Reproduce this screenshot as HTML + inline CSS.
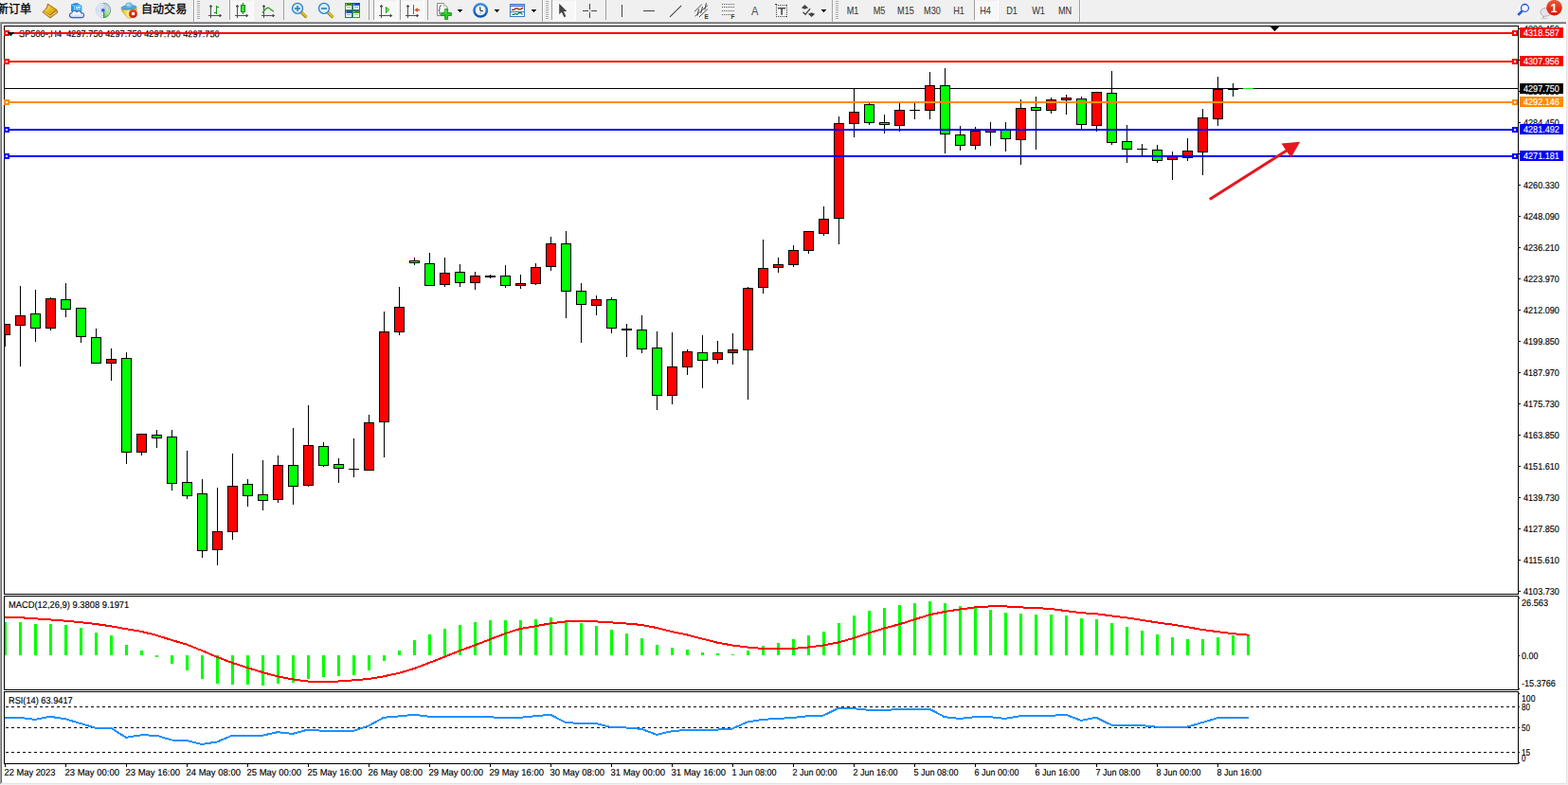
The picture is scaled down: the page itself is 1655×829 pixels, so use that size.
<!DOCTYPE html>
<html><head><meta charset="utf-8"><title>SP500 H4</title>
<style>html,body{margin:0;padding:0;background:#f0f0f0;overflow:hidden}svg{display:block}text{font-family:"Liberation Sans",sans-serif}</style>
</head><body>
<svg width="1655" height="829" viewBox="0 0 1655 829" shape-rendering="crispEdges">
<defs>
<clipPath id="cm"><rect x="5" y="28" width="1597" height="599"/></clipPath>
<clipPath id="c2"><rect x="5" y="630" width="1597" height="98"/></clipPath>
<clipPath id="c3"><rect x="5" y="731" width="1597" height="75"/></clipPath>
<pattern id="dz" width="2" height="2" patternUnits="userSpaceOnUse"><rect width="2" height="2" fill="#fff"/><rect width="1" height="1" fill="#f0f0f0"/><rect x="1" y="1" width="1" height="1" fill="#f0f0f0"/></pattern>
</defs>
<rect x="0" y="0" width="1655" height="829" fill="#f0f0f0"/>
<rect x="2" y="25" width="1651" height="802" fill="#fff"/>
<rect x="0" y="23" width="1653" height="1" fill="#a0a0a0"/>
<rect x="1" y="24" width="1652" height="1" fill="#696969"/>
<rect x="0" y="23" width="1" height="805" fill="#a0a0a0"/>
<rect x="1" y="24" width="1" height="803" fill="#696969"/>
<rect x="2" y="827" width="1652" height="1" fill="#e3e3e3"/>
<rect x="1653" y="25" width="1" height="803" fill="#e3e3e3"/>
<g shape-rendering="auto">
<text x="-3.2" y="14.1" font-size="12.1" fill="#000" stroke="#000" stroke-width="0.3" style="font-family:'Liberation Sans','Noto Sans CJK SC',sans-serif">新订单</text>
<defs><linearGradient id="bk" x1="0" y1="0" x2="1" y2="1"><stop offset="0" stop-color="#fbee90"/><stop offset=".45" stop-color="#ecbe20"/><stop offset="1" stop-color="#d4960e"/></linearGradient></defs>
<g><path d="M50.300 4L59.900 10.300L61 13L53 19.100L44.900 12.900L49.300 7.900Z" fill="#b27210" stroke="#a86a0a" stroke-width=".7" stroke-linejoin="round"/><path d="M50.700 5.200L58.900 10.600L52.700 15.600L46.700 11.700L50 8.200Z" fill="url(#bk)"/><path d="M45.900 12.900L52.800 17.900L53 16.500L46.700 12.200Z" fill="#f4d058"/><path d="M53.600 17.800L60 13L59.500 11.600L53.300 16.500Z" fill="#e8dca4"/><path d="M53.500 17.200L59.800 12.300" stroke="#b89040" stroke-width=".4"/></g>
<defs><linearGradient id="cl" x1="0" y1="0" x2="0" y2="1"><stop offset="0" stop-color="#ffffff"/><stop offset=".5" stop-color="#f0f4fa"/><stop offset="1" stop-color="#bccadf"/></linearGradient></defs>
<g><path d="M75.200 4.200L81 3.100L86.200 5.400V12.500L78.400 13.200L75.200 12Z" fill="#1a8ae8"/><path d="M75.200 4.200L78.400 6.200V13.200L75.200 12Z" fill="#0c9ef6"/><path d="M78.400 6.200L86.200 5.400V12.500L78.400 13.200Z" fill="#2ca8fc"/><path d="M75.300 4.300L78.400 6.200V13M78.400 6.200L86 5.500" fill="none" stroke="#e4f2ff" stroke-width=".6"/><path d="M80 8.400L84.900 7.600" stroke="#fff" stroke-width="1.200"/><path d="M80 10.300L84.900 9.900" stroke="#b8e0ff" stroke-width=".8"/>
<path d="M76.500 18.600C72.600 18.600 72.400 14.200 75.800 13.800C76 11.400 79.600 10.600 81 12.600C82.400 10.800 85.600 11.600 85.600 13.600C89.200 13.400 89.800 18.600 86 18.600Z" fill="url(#cl)" stroke="#42609f" stroke-width="1.100"/></g>
<defs><linearGradient id="sw" x1="0" y1="1" x2="1" y2="0"><stop offset="0" stop-color="#3fb43f"/><stop offset=".5" stop-color="#a8d4a8"/><stop offset="1" stop-color="#d4e6d6"/></linearGradient></defs>
<g fill="none"><circle cx="109" cy="11" r="7.8" fill="#f6f8fa"/><path d="M109 11V19A8 8 0 0 0 117 11Z" fill="url(#sw)"/><path d="M109 11H117A8 8 0 0 0 109 3Z" fill="#e2ece6"/>
<path d="M109 3.400a7.600 7.600 0 0 0 0 15.200" stroke="#6f92e0" stroke-width=".9" opacity=".5"/><path d="M109 5.500a5.500 5.500 0 0 0 0 11" stroke="#5a84dc" stroke-width=".9" opacity=".5"/><path d="M109 7.700a3.300 3.300 0 0 0 0 6.600" stroke="#4a78d8" stroke-width=".9" opacity=".45"/>
<path d="M109 3.400a7.600 7.600 0 0 1 7.600 7.600" stroke="#5f8fb0" stroke-width="1.100" opacity=".8"/><path d="M109 5.500a5.500 5.500 0 0 1 5.500 5.500" stroke="#86a8b8" stroke-width="1" opacity=".7"/><path d="M109 7.700a3.300 3.300 0 0 1 3.300 3.300" stroke="#86a8b8" stroke-width="1" opacity=".7"/><path d="M116.600 11a7.600 7.600 0 0 1-7.600 7.600" stroke="#4aa04a" stroke-width="1" opacity=".8"/>
<circle cx="108.800" cy="10.800" r="1.900" fill="#2a5cd0"/><rect x="109.100" y="11" width="1" height="8" fill="#1fa81f"/></g>
<defs><linearGradient id="yb" x1="0" y1="0" x2="1" y2="0"><stop offset="0" stop-color="#e9b020"/><stop offset=".45" stop-color="#fff07a"/><stop offset="1" stop-color="#eab824"/></linearGradient><linearGradient id="rd" x1="0" y1="0" x2="0" y2="1"><stop offset="0" stop-color="#f04a28"/><stop offset="1" stop-color="#c81400"/></linearGradient></defs>
<g><path d="M128.200 9.800L144.300 8.800L143.600 13L138 19.300L134.500 18.600L128.600 11.500Z" fill="url(#yb)" stroke="#c8941a" stroke-width=".7"/>
<ellipse cx="136" cy="7.900" rx="8" ry="2.200" fill="#56a8dc" stroke="#2c88b8" stroke-width=".7" transform="rotate(-4 136 7.600)"/><ellipse cx="136.200" cy="5.600" rx="3.500" ry="2.700" fill="#84c8ee" stroke="#3a94c4" stroke-width=".6"/><ellipse cx="135.300" cy="5" rx="1.600" ry="1" fill="#b4e0f8"/>
<circle cx="140.500" cy="14.600" r="4.100" fill="url(#rd)" stroke="#b41400" stroke-width=".5"/><rect x="139" y="13.100" width="3.100" height="3" fill="#fff"/></g>
<text x="148.9" y="14.1" font-size="12.1" fill="#000" stroke="#000" stroke-width="0.3" style="font-family:'Liberation Sans','Noto Sans CJK SC',sans-serif">自动交易</text>
</g>
<rect x="204" y="0" width="1" height="23" fill="#a0a0a0"/>
<rect x="205" y="0" width="1" height="23" fill="#fff"/>
<rect x="208" y="1" width="3" height="1" fill="#a6a6a6"/>
<rect x="208" y="3" width="3" height="1" fill="#a6a6a6"/>
<rect x="208" y="5" width="3" height="1" fill="#a6a6a6"/>
<rect x="208" y="7" width="3" height="1" fill="#a6a6a6"/>
<rect x="208" y="9" width="3" height="1" fill="#a6a6a6"/>
<rect x="208" y="11" width="3" height="1" fill="#a6a6a6"/>
<rect x="208" y="13" width="3" height="1" fill="#a6a6a6"/>
<rect x="208" y="15" width="3" height="1" fill="#a6a6a6"/>
<rect x="208" y="17" width="3" height="1" fill="#a6a6a6"/>
<rect x="208" y="19" width="3" height="1" fill="#a6a6a6"/>
<rect x="208" y="2" width="3" height="1" fill="#fbfbfb"/>
<rect x="208" y="4" width="3" height="1" fill="#fbfbfb"/>
<rect x="208" y="6" width="3" height="1" fill="#fbfbfb"/>
<rect x="208" y="8" width="3" height="1" fill="#fbfbfb"/>
<rect x="208" y="10" width="3" height="1" fill="#fbfbfb"/>
<rect x="208" y="12" width="3" height="1" fill="#fbfbfb"/>
<rect x="208" y="14" width="3" height="1" fill="#fbfbfb"/>
<rect x="208" y="16" width="3" height="1" fill="#fbfbfb"/>
<rect x="208" y="18" width="3" height="1" fill="#fbfbfb"/>
<rect x="208" y="20" width="3" height="1" fill="#fbfbfb"/>
<rect x="222" y="5" width="1" height="14" fill="#505050"/><rect x="220" y="16" width="14" height="1" fill="#505050"/>
<rect x="221" y="6" width="3" height="1" fill="#505050"/><rect x="232" y="15" width="1" height="3" fill="#505050"/>
<rect x="221" y="7" width="1" height="1" fill="#b0b0b0"/><rect x="223" y="7" width="1" height="1" fill="#b0b0b0"/><rect x="231" y="15" width="1" height="1" fill="#b0b0b0"/><rect x="231" y="17" width="1" height="1" fill="#b0b0b0"/>
<g fill="#0a9a0a"><rect x="228" y="6" width="1" height="9"/><rect x="229" y="7" width="2" height="1"/><rect x="226" y="13" width="2" height="1"/><rect x="228" y="6" width="2" height="1" opacity=".0"/></g>
<rect x="243" y="1" width="24" height="20" fill="url(#dz)"/>
<rect x="242" y="0" width="1" height="21" fill="#a0a0a0"/>
<rect x="242" y="21" width="26" height="1" fill="#fff"/><rect x="267" y="0" width="1" height="22" fill="#fff"/>
<rect x="250" y="5" width="1" height="14" fill="#505050"/><rect x="248" y="16" width="14" height="1" fill="#505050"/>
<rect x="249" y="6" width="3" height="1" fill="#505050"/><rect x="260" y="15" width="1" height="3" fill="#505050"/>
<rect x="249" y="7" width="1" height="1" fill="#b0b0b0"/><rect x="251" y="7" width="1" height="1" fill="#b0b0b0"/><rect x="259" y="15" width="1" height="1" fill="#b0b0b0"/><rect x="259" y="17" width="1" height="1" fill="#b0b0b0"/>
<rect x="256" y="3" width="1" height="12" fill="#0a8a0a"/><rect x="254" y="5" width="5" height="8" fill="#0a8a0a"/><rect x="255" y="6" width="3" height="6" fill="#3be03b"/>
<rect x="278" y="5" width="1" height="14" fill="#505050"/><rect x="276" y="16" width="14" height="1" fill="#505050"/>
<rect x="277" y="6" width="3" height="1" fill="#505050"/><rect x="288" y="15" width="1" height="3" fill="#505050"/>
<rect x="277" y="7" width="1" height="1" fill="#b0b0b0"/><rect x="279" y="7" width="1" height="1" fill="#b0b0b0"/><rect x="287" y="15" width="1" height="1" fill="#b0b0b0"/><rect x="287" y="17" width="1" height="1" fill="#b0b0b0"/>
<path d="M277 13.5C280 10 282 7 284 8.5S287.5 12 289 12" fill="none" stroke="#1a9a1a" stroke-width="1.2" shape-rendering="auto"/>
<rect x="299" y="0" width="1" height="21" fill="#a0a0a0"/>
<g shape-rendering="auto">
<path d="M318 13L323.6 18.4" stroke="#a88a10" stroke-width="3.2" stroke-linecap="butt"/><path d="M318.3 12.7L323.8 18" stroke="#e8cc38" stroke-width="1.4"/>
<circle cx="314" cy="8.9" r="5.5" fill="#d6eefb" stroke="#2b7cc6" stroke-width="1.3"/>
<rect x="311" y="8.2" width="6" height="1.6" fill="#2f7fb4"/>
<rect x="313.2" y="6" width="1.6" height="6" fill="#2f7fb4"/>
</g>
<g shape-rendering="auto">
<path d="M346 13L351.6 18.4" stroke="#a88a10" stroke-width="3.2" stroke-linecap="butt"/><path d="M346.3 12.7L351.8 18" stroke="#e8cc38" stroke-width="1.4"/>
<circle cx="342" cy="8.9" r="5.5" fill="#d6eefb" stroke="#2b7cc6" stroke-width="1.3"/>
<rect x="339" y="8.2" width="6" height="1.6" fill="#2f7fb4"/>
</g>
<rect x="364" y="3" width="8" height="8" fill="#3fa01a"/><rect x="364" y="3" width="8" height="2" fill="#2c8a10"/><rect x="365" y="6" width="6" height="4" fill="#f4f8f4"/><rect x="366" y="7" width="4" height="1" fill="#3fa01a" opacity=".5"/><rect x="365" y="4" width="1" height="1" fill="#fff" opacity=".7"/>
<rect x="372" y="3" width="8" height="8" fill="#2a5fd8"/><rect x="372" y="3" width="8" height="2" fill="#1848c0"/><rect x="373" y="6" width="6" height="4" fill="#f4f8f4"/><rect x="374" y="7" width="4" height="1" fill="#2a5fd8" opacity=".5"/><rect x="373" y="4" width="1" height="1" fill="#fff" opacity=".7"/>
<rect x="364" y="11" width="8" height="8" fill="#2a5fd8"/><rect x="364" y="11" width="8" height="2" fill="#1848c0"/><rect x="365" y="14" width="6" height="4" fill="#f4f8f4"/><rect x="366" y="15" width="4" height="1" fill="#2a5fd8" opacity=".5"/><rect x="365" y="12" width="1" height="1" fill="#fff" opacity=".7"/>
<rect x="372" y="11" width="8" height="8" fill="#3fa01a"/><rect x="372" y="11" width="8" height="2" fill="#2c8a10"/><rect x="373" y="14" width="6" height="4" fill="#f4f8f4"/><rect x="374" y="15" width="4" height="1" fill="#3fa01a" opacity=".5"/><rect x="373" y="12" width="1" height="1" fill="#fff" opacity=".7"/>
<rect x="389" y="0" width="1" height="21" fill="#a0a0a0"/>
<rect x="395" y="1" width="24" height="20" fill="url(#dz)"/>
<rect x="394" y="0" width="1" height="21" fill="#a0a0a0"/>
<rect x="394" y="21" width="26" height="1" fill="#fff"/><rect x="419" y="0" width="1" height="22" fill="#fff"/>
<rect x="402" y="5" width="1" height="14" fill="#505050"/><rect x="400" y="16" width="14" height="1" fill="#505050"/>
<rect x="401" y="6" width="3" height="1" fill="#505050"/><rect x="412" y="15" width="1" height="3" fill="#505050"/>
<rect x="401" y="7" width="1" height="1" fill="#b0b0b0"/><rect x="403" y="7" width="1" height="1" fill="#b0b0b0"/><rect x="411" y="15" width="1" height="1" fill="#b0b0b0"/><rect x="411" y="17" width="1" height="1" fill="#b0b0b0"/>
<path d="M407.4 7.400v6.200l3.400-3.100z" fill="#7fe07f" stroke="#0a9a0a" stroke-width=".9" shape-rendering="auto"/>
<rect x="423" y="1" width="24" height="20" fill="url(#dz)"/>
<rect x="422" y="0" width="1" height="21" fill="#a0a0a0"/>
<rect x="422" y="21" width="26" height="1" fill="#fff"/><rect x="447" y="0" width="1" height="22" fill="#fff"/>
<rect x="430" y="5" width="1" height="14" fill="#505050"/><rect x="428" y="16" width="14" height="1" fill="#505050"/>
<rect x="429" y="6" width="3" height="1" fill="#505050"/><rect x="440" y="15" width="1" height="3" fill="#505050"/>
<rect x="429" y="7" width="1" height="1" fill="#b0b0b0"/><rect x="431" y="7" width="1" height="1" fill="#b0b0b0"/><rect x="439" y="15" width="1" height="1" fill="#b0b0b0"/><rect x="439" y="17" width="1" height="1" fill="#b0b0b0"/>
<rect x="436" y="5" width="1" height="10" fill="#1a6fb0"/><path d="M437.5 10.5l3.2-2.4v1.7h2.2v1.4h-2.2v1.7z" fill="#e04a10" shape-rendering="auto"/>
<rect x="451" y="0" width="1" height="21" fill="#a0a0a0"/>
<g shape-rendering="auto"><path d="M461.5 3.5h7l3.5 3.5v9.5h-10.5z" fill="#fcfcfc" stroke="#8a8a8a" stroke-width="1"/><path d="M468.5 3.5v3.5h3.5" fill="#e8e8e8" stroke="#b0b0b0" stroke-width=".8"/><path d="M466 5.800c-2 0-2 1.500-2 3s0 2-1.200 2c1.200 0 1.200 1 1.200 2.500s0 2 1 2" fill="none" stroke="#444" stroke-width="1"/><path d="M469.600 9.600h3v3.900h3.900v3h-3.900v3.900h-3v-3.900h-3.900v-3h3.900z" fill="#20cc20" stroke="#0a8a0a" stroke-width=".8"/><path d="M470.200 10.300h1.200v3.900h-1.200z" fill="#9af49a" opacity=".7"/></g>
<path d="M483 10h5l-2.5 3z" fill="#000" shape-rendering="crispEdges"/>
<g shape-rendering="auto"><defs><linearGradient id="ck" x1="0" y1="0" x2="0" y2="1"><stop offset="0" stop-color="#3c8ce8"/><stop offset="1" stop-color="#0a52b8"/></linearGradient></defs><circle cx="507.200" cy="10.900" r="6.700" fill="#f2f6fa" stroke="url(#ck)" stroke-width="2.500"/><circle cx="507.200" cy="10.900" r="4.600" fill="none" stroke="#c8ccd0" stroke-width=".8" stroke-dasharray=".8 1.600"/><path d="M506.600 7.400l.5 3.800l2.800 .5" fill="none" stroke="#222" stroke-width="1.100"/><path d="M506.300 13.700h2" stroke="#58a8f0" stroke-width=".9"/></g>
<path d="M522 10h5l-2.5 3z" fill="#000" shape-rendering="crispEdges"/>
<rect x="538" y="4" width="16" height="14" fill="#3a78c8"/><rect x="539" y="5" width="14" height="1" fill="#8ab8ec"/><rect x="539" y="7" width="14" height="5" fill="#fff"/><rect x="539" y="13" width="14" height="4" fill="#fff"/>
<g shape-rendering="auto" fill="none" stroke-width="1.300"><path d="M540 10.300h2.500l1.800-1.400h1.800l1.400 1h2l1.800-1.400h1" stroke="#a81808"/><path d="M540.500 15.300h2l1.500-.8l1.800 .8l2.200-1.900l1.700 .2l1.800 1.700" stroke="#0a8a2a"/></g>
<path d="M561 10h5l-2.5 3z" fill="#000" shape-rendering="crispEdges"/>
<rect x="572" y="0" width="1" height="23" fill="#a0a0a0"/>
<rect x="573" y="0" width="1" height="23" fill="#fff"/>
<rect x="576" y="1" width="3" height="1" fill="#a6a6a6"/>
<rect x="576" y="3" width="3" height="1" fill="#a6a6a6"/>
<rect x="576" y="5" width="3" height="1" fill="#a6a6a6"/>
<rect x="576" y="7" width="3" height="1" fill="#a6a6a6"/>
<rect x="576" y="9" width="3" height="1" fill="#a6a6a6"/>
<rect x="576" y="11" width="3" height="1" fill="#a6a6a6"/>
<rect x="576" y="13" width="3" height="1" fill="#a6a6a6"/>
<rect x="576" y="15" width="3" height="1" fill="#a6a6a6"/>
<rect x="576" y="17" width="3" height="1" fill="#a6a6a6"/>
<rect x="576" y="19" width="3" height="1" fill="#a6a6a6"/>
<rect x="576" y="2" width="3" height="1" fill="#fbfbfb"/>
<rect x="576" y="4" width="3" height="1" fill="#fbfbfb"/>
<rect x="576" y="6" width="3" height="1" fill="#fbfbfb"/>
<rect x="576" y="8" width="3" height="1" fill="#fbfbfb"/>
<rect x="576" y="10" width="3" height="1" fill="#fbfbfb"/>
<rect x="576" y="12" width="3" height="1" fill="#fbfbfb"/>
<rect x="576" y="14" width="3" height="1" fill="#fbfbfb"/>
<rect x="576" y="16" width="3" height="1" fill="#fbfbfb"/>
<rect x="576" y="18" width="3" height="1" fill="#fbfbfb"/>
<rect x="576" y="20" width="3" height="1" fill="#fbfbfb"/>
<rect x="583" y="1" width="24" height="20" fill="url(#dz)"/>
<rect x="582" y="0" width="1" height="21" fill="#a0a0a0"/>
<rect x="582" y="21" width="26" height="1" fill="#fff"/><rect x="607" y="0" width="1" height="22" fill="#fff"/>
<path d="M590.200 3.800v11.400l2.700-2.500l2.500 5.500l2-1l-2.500-5.300h3.600z" fill="#454545" shape-rendering="auto"/>
<rect x="622" y="4" width="1" height="6" fill="#444"/><rect x="622" y="13" width="1" height="6" fill="#444"/><rect x="615" y="11" width="6" height="1" fill="#444"/><rect x="624" y="11" width="6" height="1" fill="#444"/><rect x="622" y="11" width="1" height="1" fill="#999"/>
<rect x="639" y="0" width="1" height="21" fill="#a0a0a0"/>
<rect x="656" y="5" width="1" height="13" fill="#444"/>
<rect x="679" y="11" width="12" height="1" fill="#444"/>
<path d="M707 17.800L719.200 5.900" stroke="#444" stroke-width="1.100" shape-rendering="auto"/>
<g shape-rendering="auto" stroke="#444" stroke-width=".9" fill="none"><path d="M732.800 12.400L740.700 4.800M733.500 17.100L747 5.700M737.900 18L747 9.500"/><path d="M736 16.500L737.500 9.500M739.800 14L741.500 7M743.800 10.500L745.500 3.200" stroke-width="1"/></g>
<text x="743.600" y="19.600" font-size="6.500" font-weight="bold" fill="#333">E</text>
<rect x="762" y="4" width="1" height="1" fill="#555"/>
<rect x="764" y="4" width="1" height="1" fill="#555"/>
<rect x="766" y="4" width="1" height="1" fill="#555"/>
<rect x="768" y="4" width="1" height="1" fill="#555"/>
<rect x="770" y="4" width="1" height="1" fill="#555"/>
<rect x="772" y="4" width="1" height="1" fill="#555"/>
<rect x="774" y="4" width="1" height="1" fill="#555"/>
<rect x="762" y="7" width="1" height="1" fill="#555"/>
<rect x="764" y="7" width="1" height="1" fill="#555"/>
<rect x="766" y="7" width="1" height="1" fill="#555"/>
<rect x="768" y="7" width="1" height="1" fill="#555"/>
<rect x="770" y="7" width="1" height="1" fill="#555"/>
<rect x="772" y="7" width="1" height="1" fill="#555"/>
<rect x="774" y="7" width="1" height="1" fill="#555"/>
<rect x="762" y="11" width="1" height="1" fill="#555"/>
<rect x="764" y="11" width="1" height="1" fill="#555"/>
<rect x="766" y="11" width="1" height="1" fill="#555"/>
<rect x="768" y="11" width="1" height="1" fill="#555"/>
<rect x="770" y="11" width="1" height="1" fill="#555"/>
<rect x="772" y="11" width="1" height="1" fill="#555"/>
<rect x="774" y="11" width="1" height="1" fill="#555"/>
<rect x="762" y="15" width="1" height="1" fill="#555"/>
<rect x="764" y="15" width="1" height="1" fill="#555"/>
<rect x="766" y="15" width="1" height="1" fill="#555"/>
<rect x="768" y="15" width="1" height="1" fill="#555"/>
<rect x="770" y="15" width="1" height="1" fill="#555"/>
<text x="771.600" y="19.600" font-size="6.500" font-weight="bold" fill="#333">F</text>
<text x="793" y="16" font-size="12.500" fill="#505050" textLength="7.500" lengthAdjust="spacingAndGlyphs">A</text>
<rect x="819" y="5" width="1" height="1" fill="#444"/><rect x="819" y="17" width="1" height="1" fill="#444"/>
<rect x="821" y="5" width="1" height="1" fill="#444"/><rect x="821" y="17" width="1" height="1" fill="#444"/>
<rect x="823" y="5" width="1" height="1" fill="#444"/><rect x="823" y="17" width="1" height="1" fill="#444"/>
<rect x="825" y="5" width="1" height="1" fill="#444"/><rect x="825" y="17" width="1" height="1" fill="#444"/>
<rect x="827" y="5" width="1" height="1" fill="#444"/><rect x="827" y="17" width="1" height="1" fill="#444"/>
<rect x="829" y="5" width="1" height="1" fill="#444"/><rect x="829" y="17" width="1" height="1" fill="#444"/>
<rect x="819" y="5" width="1" height="1" fill="#444"/><rect x="830" y="5" width="1" height="1" fill="#444"/>
<rect x="819" y="7" width="1" height="1" fill="#444"/><rect x="830" y="7" width="1" height="1" fill="#444"/>
<rect x="819" y="9" width="1" height="1" fill="#444"/><rect x="830" y="9" width="1" height="1" fill="#444"/>
<rect x="819" y="11" width="1" height="1" fill="#444"/><rect x="830" y="11" width="1" height="1" fill="#444"/>
<rect x="819" y="13" width="1" height="1" fill="#444"/><rect x="830" y="13" width="1" height="1" fill="#444"/>
<rect x="819" y="15" width="1" height="1" fill="#444"/><rect x="830" y="15" width="1" height="1" fill="#444"/>
<rect x="819" y="17" width="1" height="1" fill="#444"/><rect x="830" y="17" width="1" height="1" fill="#444"/>
<rect x="818" y="4" width="2" height="1" fill="#444"/>
<rect x="821" y="8" width="8" height="1.400" fill="#444" shape-rendering="auto"/><rect x="824.300" y="8" width="1.600" height="7.600" fill="#444" shape-rendering="auto"/>
<g shape-rendering="auto" fill="#444"><path d="M849.500 5l3.600 3.200l-3.600 1.600l-3.600-1.600z"/><path d="M856.600 18l-3.600-3.300l3.600-1.500l3.600 1.500z"/><path d="M847.500 12.800l2.600 2.400l5-6" fill="none" stroke="#444" stroke-width="1.300"/></g>
<path d="M867 10h5l-2.5 3z" fill="#000" shape-rendering="crispEdges"/>
<rect x="878" y="0" width="1" height="23" fill="#a0a0a0"/>
<rect x="879" y="0" width="1" height="23" fill="#fff"/>
<rect x="882" y="1" width="3" height="1" fill="#a6a6a6"/>
<rect x="882" y="3" width="3" height="1" fill="#a6a6a6"/>
<rect x="882" y="5" width="3" height="1" fill="#a6a6a6"/>
<rect x="882" y="7" width="3" height="1" fill="#a6a6a6"/>
<rect x="882" y="9" width="3" height="1" fill="#a6a6a6"/>
<rect x="882" y="11" width="3" height="1" fill="#a6a6a6"/>
<rect x="882" y="13" width="3" height="1" fill="#a6a6a6"/>
<rect x="882" y="15" width="3" height="1" fill="#a6a6a6"/>
<rect x="882" y="17" width="3" height="1" fill="#a6a6a6"/>
<rect x="882" y="19" width="3" height="1" fill="#a6a6a6"/>
<rect x="882" y="2" width="3" height="1" fill="#fbfbfb"/>
<rect x="882" y="4" width="3" height="1" fill="#fbfbfb"/>
<rect x="882" y="6" width="3" height="1" fill="#fbfbfb"/>
<rect x="882" y="8" width="3" height="1" fill="#fbfbfb"/>
<rect x="882" y="10" width="3" height="1" fill="#fbfbfb"/>
<rect x="882" y="12" width="3" height="1" fill="#fbfbfb"/>
<rect x="882" y="14" width="3" height="1" fill="#fbfbfb"/>
<rect x="882" y="16" width="3" height="1" fill="#fbfbfb"/>
<rect x="882" y="18" width="3" height="1" fill="#fbfbfb"/>
<rect x="882" y="20" width="3" height="1" fill="#fbfbfb"/>
<rect x="1029" y="1" width="24" height="20" fill="url(#dz)"/>
<rect x="1028" y="0" width="1" height="21" fill="#a0a0a0"/>
<rect x="1028" y="21" width="26" height="1" fill="#fff"/><rect x="1053" y="0" width="1" height="22" fill="#fff"/>
<text transform="translate(900,14.900) scale(.87,1)" text-anchor="middle" font-size="10.500" fill="#3c3c3c" stroke="#3c3c3c" stroke-width=".1">M1</text>
<text transform="translate(928,14.900) scale(.87,1)" text-anchor="middle" font-size="10.500" fill="#3c3c3c" stroke="#3c3c3c" stroke-width=".1">M5</text>
<text transform="translate(956,14.900) scale(.87,1)" text-anchor="middle" font-size="10.500" fill="#3c3c3c" stroke="#3c3c3c" stroke-width=".1">M15</text>
<text transform="translate(984,14.900) scale(.87,1)" text-anchor="middle" font-size="10.500" fill="#3c3c3c" stroke="#3c3c3c" stroke-width=".1">M30</text>
<text transform="translate(1012,14.900) scale(.87,1)" text-anchor="middle" font-size="10.500" fill="#3c3c3c" stroke="#3c3c3c" stroke-width=".1">H1</text>
<text transform="translate(1040,14.900) scale(.87,1)" text-anchor="middle" font-size="10.500" fill="#3c3c3c" stroke="#3c3c3c" stroke-width=".1">H4</text>
<text transform="translate(1068,14.900) scale(.87,1)" text-anchor="middle" font-size="10.500" fill="#3c3c3c" stroke="#3c3c3c" stroke-width=".1">D1</text>
<text transform="translate(1096,14.900) scale(.87,1)" text-anchor="middle" font-size="10.500" fill="#3c3c3c" stroke="#3c3c3c" stroke-width=".1">W1</text>
<text transform="translate(1124,14.900) scale(.87,1)" text-anchor="middle" font-size="10.500" fill="#3c3c3c" stroke="#3c3c3c" stroke-width=".1">MN</text>
<rect x="1139" y="0" width="1" height="23" fill="#a0a0a0"/>
<rect x="1140" y="0" width="1" height="23" fill="#fff"/>
<g shape-rendering="auto"><path d="M1606.800 11.300L1602.300 15.800" stroke="#1c50d0" stroke-width="2.600"/><path d="M1606.300 11.800L1602.600 15.500" stroke="#6a98f0" stroke-width=".8" stroke-dasharray="1 1"/><circle cx="1609.500" cy="8.400" r="3.900" fill="#f6f6ff" stroke="#2258d6" stroke-width="1.300"/></g>
<g shape-rendering="auto"><path d="M1631.500 8.500c3.300 0 5.600 1.900 5.600 4.300s-2.300 4.300-5.600 4.300c-.5 0-1 0-1.400-.1l-1.200 2.200l-.4-2.700c-1.600-.8-2.600-2.100-2.600-3.700c0-2.400 2.300-4.300 5.600-4.300z" fill="#e4e4ea" stroke="#a8a8a8" stroke-width=".9"/><ellipse cx="1630" cy="19.600" rx="4.500" ry=".7" fill="#d0d0d0"/>
<defs><linearGradient id="bg" x1="0" y1="0" x2="0" y2="1"><stop offset="0" stop-color="#ea5a3a"/><stop offset="1" stop-color="#d81400"/></linearGradient></defs><circle cx="1640.500" cy="8.200" r="8.300" fill="url(#bg)"/>
<text x="1640" y="13.200" font-size="12.800" font-weight="bold" fill="#fff" text-anchor="middle" font-family="Liberation Serif">1</text></g>
<rect x="4" y="27" width="1599" height="1" fill="#000"/>
<rect x="4" y="627" width="1599" height="1" fill="#000"/>
<rect x="4" y="27" width="1" height="601" fill="#000"/>
<rect x="1602" y="27" width="1" height="601" fill="#000"/>
<rect x="4" y="629" width="1599" height="1" fill="#000"/>
<rect x="4" y="728" width="1599" height="1" fill="#000"/>
<rect x="4" y="629" width="1" height="100" fill="#000"/>
<rect x="1602" y="629" width="1" height="100" fill="#000"/>
<rect x="4" y="730" width="1599" height="1" fill="#000"/>
<rect x="4" y="806" width="1599" height="1" fill="#000"/>
<rect x="4" y="730" width="1" height="77" fill="#000"/>
<rect x="1602" y="730" width="1" height="77" fill="#000"/>
<rect x="1603" y="30" width="2" height="1" fill="#000"/>
<text transform="translate(1608,34) rotate(.05) scale(0.9110,1)" fill="#000" stroke="#000" stroke-width="0.15" font-size="10" xml:space="preserve">4320.450</text>
<rect x="1603" y="63" width="2" height="1" fill="#000"/>
<text transform="translate(1608,67) rotate(.05) scale(0.9110,1)" fill="#000" stroke="#000" stroke-width="0.15" font-size="10" xml:space="preserve">4308.210</text>
<rect x="1603" y="96" width="2" height="1" fill="#000"/>
<text transform="translate(1608,100) rotate(.05) scale(0.9110,1)" fill="#000" stroke="#000" stroke-width="0.15" font-size="10" xml:space="preserve">4296.330</text>
<rect x="1603" y="129" width="2" height="1" fill="#000"/>
<text transform="translate(1608,133) rotate(.05) scale(0.9110,1)" fill="#000" stroke="#000" stroke-width="0.15" font-size="10" xml:space="preserve">4284.450</text>
<rect x="1603" y="162" width="2" height="1" fill="#000"/>
<text transform="translate(1608,166) rotate(.05) scale(0.9110,1)" fill="#000" stroke="#000" stroke-width="0.15" font-size="10" xml:space="preserve">4272.210</text>
<rect x="1603" y="195" width="2" height="1" fill="#000"/>
<text transform="translate(1608,199) rotate(.05) scale(0.9110,1)" fill="#000" stroke="#000" stroke-width="0.15" font-size="10" xml:space="preserve">4260.330</text>
<rect x="1603" y="228" width="2" height="1" fill="#000"/>
<text transform="translate(1608,232) rotate(.05) scale(0.9110,1)" fill="#000" stroke="#000" stroke-width="0.15" font-size="10" xml:space="preserve">4248.090</text>
<rect x="1603" y="261" width="2" height="1" fill="#000"/>
<text transform="translate(1608,265) rotate(.05) scale(0.9110,1)" fill="#000" stroke="#000" stroke-width="0.15" font-size="10" xml:space="preserve">4236.210</text>
<rect x="1603" y="294" width="2" height="1" fill="#000"/>
<text transform="translate(1608,298) rotate(.05) scale(0.9110,1)" fill="#000" stroke="#000" stroke-width="0.15" font-size="10" xml:space="preserve">4223.970</text>
<rect x="1603" y="327" width="2" height="1" fill="#000"/>
<text transform="translate(1608,331) rotate(.05) scale(0.9110,1)" fill="#000" stroke="#000" stroke-width="0.15" font-size="10" xml:space="preserve">4212.090</text>
<rect x="1603" y="360" width="2" height="1" fill="#000"/>
<text transform="translate(1608,364) rotate(.05) scale(0.9110,1)" fill="#000" stroke="#000" stroke-width="0.15" font-size="10" xml:space="preserve">4199.850</text>
<rect x="1603" y="393" width="2" height="1" fill="#000"/>
<text transform="translate(1608,397) rotate(.05) scale(0.9110,1)" fill="#000" stroke="#000" stroke-width="0.15" font-size="10" xml:space="preserve">4187.970</text>
<rect x="1603" y="426" width="2" height="1" fill="#000"/>
<text transform="translate(1608,430) rotate(.05) scale(0.9110,1)" fill="#000" stroke="#000" stroke-width="0.15" font-size="10" xml:space="preserve">4175.730</text>
<rect x="1603" y="459" width="2" height="1" fill="#000"/>
<text transform="translate(1608,463) rotate(.05) scale(0.9110,1)" fill="#000" stroke="#000" stroke-width="0.15" font-size="10" xml:space="preserve">4163.850</text>
<rect x="1603" y="492" width="2" height="1" fill="#000"/>
<text transform="translate(1608,496) rotate(.05) scale(0.9110,1)" fill="#000" stroke="#000" stroke-width="0.15" font-size="10" xml:space="preserve">4151.610</text>
<rect x="1603" y="525" width="2" height="1" fill="#000"/>
<text transform="translate(1608,529) rotate(.05) scale(0.9110,1)" fill="#000" stroke="#000" stroke-width="0.15" font-size="10" xml:space="preserve">4139.730</text>
<rect x="1603" y="558" width="2" height="1" fill="#000"/>
<text transform="translate(1608,562) rotate(.05) scale(0.9110,1)" fill="#000" stroke="#000" stroke-width="0.15" font-size="10" xml:space="preserve">4127.850</text>
<rect x="1603" y="591" width="2" height="1" fill="#000"/>
<text transform="translate(1608,595) rotate(.05) scale(0.9276,1)" fill="#000" stroke="#000" stroke-width="0.15" font-size="10" xml:space="preserve">4115.610</text>
<rect x="1603" y="624" width="2" height="1" fill="#000"/>
<text transform="translate(1608,628) rotate(.05) scale(0.9110,1)" fill="#000" stroke="#000" stroke-width="0.15" font-size="10" xml:space="preserve">4103.730</text>
<rect x="1603" y="631" width="1" height="1" fill="#000"/>
<text transform="translate(1606,640) rotate(.05) scale(0.9154,1)" fill="#000" stroke="#000" stroke-width="0.15" font-size="10" xml:space="preserve">26.563</text>
<rect x="1603" y="692" width="1" height="1" fill="#000"/>
<text transform="translate(1606,696) rotate(.05) scale(0.9043,1)" fill="#000" stroke="#000" stroke-width="0.15" font-size="10" xml:space="preserve">0.00</text>
<rect x="1603" y="727" width="1" height="1" fill="#000"/>
<text transform="translate(1606,725) rotate(.05) scale(0.9119,1)" fill="#000" stroke="#000" stroke-width="0.15" font-size="10" xml:space="preserve">-15.3766</text>
<rect x="1603" y="732" width="1" height="1" fill="#000"/>
<text transform="translate(1606,741) rotate(.05) scale(0.8690,1)" fill="#000" stroke="#000" stroke-width="0.15" font-size="10" xml:space="preserve">100</text>
<rect x="1603" y="746" width="1" height="1" fill="#000"/>
<text transform="translate(1606,750) rotate(.05) scale(0.8091,1)" fill="#000" stroke="#000" stroke-width="0.15" font-size="10" xml:space="preserve">80</text>
<rect x="1603" y="768" width="1" height="1" fill="#000"/>
<text transform="translate(1606,772) rotate(.05) scale(0.8091,1)" fill="#000" stroke="#000" stroke-width="0.15" font-size="10" xml:space="preserve">50</text>
<rect x="1603" y="794" width="1" height="1" fill="#000"/>
<text transform="translate(1606,798) rotate(.05) scale(0.8091,1)" fill="#000" stroke="#000" stroke-width="0.15" font-size="10" xml:space="preserve">15</text>
<rect x="1603" y="805" width="1" height="1" fill="#000"/>
<text transform="translate(1606,804) rotate(.05) scale(0.7911,1)" fill="#000" stroke="#000" stroke-width="0.15" font-size="10" xml:space="preserve">0</text>
<rect x="5" y="807" width="1" height="3" fill="#000"/>
<text transform="translate(4.5,819) rotate(.05) scale(0.9340,1)" fill="#000" stroke="#000" stroke-width="0.15" font-size="10" xml:space="preserve">22 May 2023</text>
<rect x="69" y="807" width="1" height="3" fill="#000"/>
<text transform="translate(68.5,819) rotate(.05) scale(0.9489,1)" fill="#000" stroke="#000" stroke-width="0.15" font-size="10" xml:space="preserve">23 May 00:00</text>
<rect x="133" y="807" width="1" height="3" fill="#000"/>
<text transform="translate(132.5,819) rotate(.05) scale(0.9489,1)" fill="#000" stroke="#000" stroke-width="0.15" font-size="10" xml:space="preserve">23 May 16:00</text>
<rect x="197" y="807" width="1" height="3" fill="#000"/>
<text transform="translate(196.5,819) rotate(.05) scale(0.9489,1)" fill="#000" stroke="#000" stroke-width="0.15" font-size="10" xml:space="preserve">24 May 08:00</text>
<rect x="261" y="807" width="1" height="3" fill="#000"/>
<text transform="translate(260.5,819) rotate(.05) scale(0.9489,1)" fill="#000" stroke="#000" stroke-width="0.15" font-size="10" xml:space="preserve">25 May 00:00</text>
<rect x="325" y="807" width="1" height="3" fill="#000"/>
<text transform="translate(324.5,819) rotate(.05) scale(0.9489,1)" fill="#000" stroke="#000" stroke-width="0.15" font-size="10" xml:space="preserve">25 May 16:00</text>
<rect x="389" y="807" width="1" height="3" fill="#000"/>
<text transform="translate(388.5,819) rotate(.05) scale(0.9489,1)" fill="#000" stroke="#000" stroke-width="0.15" font-size="10" xml:space="preserve">26 May 08:00</text>
<rect x="453" y="807" width="1" height="3" fill="#000"/>
<text transform="translate(452.5,819) rotate(.05) scale(0.9489,1)" fill="#000" stroke="#000" stroke-width="0.15" font-size="10" xml:space="preserve">29 May 00:00</text>
<rect x="517" y="807" width="1" height="3" fill="#000"/>
<text transform="translate(516.5,819) rotate(.05) scale(0.9489,1)" fill="#000" stroke="#000" stroke-width="0.15" font-size="10" xml:space="preserve">29 May 16:00</text>
<rect x="581" y="807" width="1" height="3" fill="#000"/>
<text transform="translate(580.5,819) rotate(.05) scale(0.9489,1)" fill="#000" stroke="#000" stroke-width="0.15" font-size="10" xml:space="preserve">30 May 08:00</text>
<rect x="645" y="807" width="1" height="3" fill="#000"/>
<text transform="translate(644.5,819) rotate(.05) scale(0.9489,1)" fill="#000" stroke="#000" stroke-width="0.15" font-size="10" xml:space="preserve">31 May 00:00</text>
<rect x="709" y="807" width="1" height="3" fill="#000"/>
<text transform="translate(708.5,819) rotate(.05) scale(0.9489,1)" fill="#000" stroke="#000" stroke-width="0.15" font-size="10" xml:space="preserve">31 May 16:00</text>
<rect x="773" y="807" width="1" height="3" fill="#000"/>
<text transform="translate(772.5,819) rotate(.05) scale(0.9031,1)" fill="#000" stroke="#000" stroke-width="0.15" font-size="10" xml:space="preserve">1 Jun 08:00</text>
<rect x="837" y="807" width="1" height="3" fill="#000"/>
<text transform="translate(836.5,819) rotate(.05) scale(0.9031,1)" fill="#000" stroke="#000" stroke-width="0.15" font-size="10" xml:space="preserve">2 Jun 00:00</text>
<rect x="901" y="807" width="1" height="3" fill="#000"/>
<text transform="translate(900.5,819) rotate(.05) scale(0.9031,1)" fill="#000" stroke="#000" stroke-width="0.15" font-size="10" xml:space="preserve">2 Jun 16:00</text>
<rect x="965" y="807" width="1" height="3" fill="#000"/>
<text transform="translate(964.5,819) rotate(.05) scale(0.9031,1)" fill="#000" stroke="#000" stroke-width="0.15" font-size="10" xml:space="preserve">5 Jun 08:00</text>
<rect x="1029" y="807" width="1" height="3" fill="#000"/>
<text transform="translate(1028.5,819) rotate(.05) scale(0.9031,1)" fill="#000" stroke="#000" stroke-width="0.15" font-size="10" xml:space="preserve">6 Jun 00:00</text>
<rect x="1093" y="807" width="1" height="3" fill="#000"/>
<text transform="translate(1092.5,819) rotate(.05) scale(0.9031,1)" fill="#000" stroke="#000" stroke-width="0.15" font-size="10" xml:space="preserve">6 Jun 16:00</text>
<rect x="1157" y="807" width="1" height="3" fill="#000"/>
<text transform="translate(1156.5,819) rotate(.05) scale(0.9031,1)" fill="#000" stroke="#000" stroke-width="0.15" font-size="10" xml:space="preserve">7 Jun 08:00</text>
<rect x="1221" y="807" width="1" height="3" fill="#000"/>
<text transform="translate(1220.5,819) rotate(.05) scale(0.9031,1)" fill="#000" stroke="#000" stroke-width="0.15" font-size="10" xml:space="preserve">8 Jun 00:00</text>
<rect x="1285" y="807" width="1" height="3" fill="#000"/>
<text transform="translate(1284.5,819) rotate(.05) scale(0.9031,1)" fill="#000" stroke="#000" stroke-width="0.15" font-size="10" xml:space="preserve">8 Jun 16:00</text>
<g clip-path="url(#cm)">
<rect x="5" y="93" width="1597" height="1" fill="#000"/>
<rect x="5" y="342" width="1" height="24" fill="#000"/>
<rect x="0" y="342" width="11" height="12" fill="#000"/>
<rect x="1" y="343" width="9" height="10" fill="#ff0000"/>
<rect x="21" y="302" width="1" height="85" fill="#000"/>
<rect x="16" y="333" width="11" height="11" fill="#000"/>
<rect x="17" y="334" width="9" height="9" fill="#ff0000"/>
<rect x="37" y="306" width="1" height="55" fill="#000"/>
<rect x="32" y="331" width="11" height="16" fill="#000"/>
<rect x="33" y="332" width="9" height="14" fill="#00ff00"/>
<rect x="53" y="314" width="1" height="35" fill="#000"/>
<rect x="48" y="315" width="11" height="32" fill="#000"/>
<rect x="49" y="316" width="9" height="30" fill="#ff0000"/>
<rect x="69" y="299" width="1" height="36" fill="#000"/>
<rect x="64" y="316" width="11" height="11" fill="#000"/>
<rect x="65" y="317" width="9" height="9" fill="#00ff00"/>
<rect x="85" y="325" width="1" height="37" fill="#000"/>
<rect x="80" y="325" width="11" height="31" fill="#000"/>
<rect x="81" y="326" width="9" height="29" fill="#00ff00"/>
<rect x="101" y="347" width="1" height="37" fill="#000"/>
<rect x="96" y="356" width="11" height="28" fill="#000"/>
<rect x="97" y="357" width="9" height="26" fill="#00ff00"/>
<rect x="117" y="368" width="1" height="34" fill="#000"/>
<rect x="112" y="379" width="11" height="5" fill="#000"/>
<rect x="113" y="380" width="9" height="3" fill="#ff0000"/>
<rect x="133" y="372" width="1" height="118" fill="#000"/>
<rect x="128" y="378" width="11" height="100" fill="#000"/>
<rect x="129" y="379" width="9" height="98" fill="#00ff00"/>
<rect x="149" y="458" width="1" height="23" fill="#000"/>
<rect x="144" y="458" width="11" height="20" fill="#000"/>
<rect x="145" y="459" width="9" height="18" fill="#ff0000"/>
<rect x="165" y="454" width="1" height="19" fill="#000"/>
<rect x="160" y="459" width="11" height="4" fill="#000"/>
<rect x="161" y="460" width="9" height="2" fill="#00ff00"/>
<rect x="181" y="454" width="1" height="64" fill="#000"/>
<rect x="176" y="461" width="11" height="50" fill="#000"/>
<rect x="177" y="462" width="9" height="48" fill="#00ff00"/>
<rect x="197" y="476" width="1" height="51" fill="#000"/>
<rect x="192" y="509" width="11" height="15" fill="#000"/>
<rect x="193" y="510" width="9" height="13" fill="#00ff00"/>
<rect x="213" y="506" width="1" height="83" fill="#000"/>
<rect x="208" y="521" width="11" height="61" fill="#000"/>
<rect x="209" y="522" width="9" height="59" fill="#00ff00"/>
<rect x="229" y="515" width="1" height="82" fill="#000"/>
<rect x="224" y="561" width="11" height="20" fill="#000"/>
<rect x="225" y="562" width="9" height="18" fill="#ff0000"/>
<rect x="245" y="479" width="1" height="91" fill="#000"/>
<rect x="240" y="513" width="11" height="49" fill="#000"/>
<rect x="241" y="514" width="9" height="47" fill="#ff0000"/>
<rect x="261" y="506" width="1" height="29" fill="#000"/>
<rect x="256" y="511" width="11" height="13" fill="#000"/>
<rect x="257" y="512" width="9" height="11" fill="#00ff00"/>
<rect x="277" y="486" width="1" height="53" fill="#000"/>
<rect x="272" y="522" width="11" height="7" fill="#000"/>
<rect x="273" y="523" width="9" height="5" fill="#00ff00"/>
<rect x="293" y="481" width="1" height="50" fill="#000"/>
<rect x="288" y="491" width="11" height="37" fill="#000"/>
<rect x="289" y="492" width="9" height="35" fill="#ff0000"/>
<rect x="309" y="452" width="1" height="81" fill="#000"/>
<rect x="304" y="491" width="11" height="23" fill="#000"/>
<rect x="305" y="492" width="9" height="21" fill="#00ff00"/>
<rect x="325" y="428" width="1" height="86" fill="#000"/>
<rect x="320" y="470" width="11" height="43" fill="#000"/>
<rect x="321" y="471" width="9" height="41" fill="#ff0000"/>
<rect x="341" y="467" width="1" height="26" fill="#000"/>
<rect x="336" y="471" width="11" height="21" fill="#000"/>
<rect x="337" y="472" width="9" height="19" fill="#00ff00"/>
<rect x="357" y="484" width="1" height="26" fill="#000"/>
<rect x="352" y="490" width="11" height="5" fill="#000"/>
<rect x="353" y="491" width="9" height="3" fill="#00ff00"/>
<rect x="373" y="463" width="1" height="41" fill="#000"/>
<rect x="368" y="495" width="11" height="1" fill="#000"/>
<rect x="389" y="438" width="1" height="59" fill="#000"/>
<rect x="384" y="446" width="11" height="51" fill="#000"/>
<rect x="385" y="447" width="9" height="49" fill="#ff0000"/>
<rect x="405" y="329" width="1" height="154" fill="#000"/>
<rect x="400" y="350" width="11" height="96" fill="#000"/>
<rect x="401" y="351" width="9" height="94" fill="#ff0000"/>
<rect x="421" y="303" width="1" height="51" fill="#000"/>
<rect x="416" y="324" width="11" height="27" fill="#000"/>
<rect x="417" y="325" width="9" height="25" fill="#ff0000"/>
<rect x="437" y="272" width="1" height="8" fill="#000"/>
<rect x="432" y="275" width="11" height="3" fill="#000"/>
<rect x="433" y="276" width="9" height="1" fill="#00ff00"/>
<rect x="453" y="267" width="1" height="35" fill="#000"/>
<rect x="448" y="278" width="11" height="24" fill="#000"/>
<rect x="449" y="279" width="9" height="22" fill="#00ff00"/>
<rect x="469" y="272" width="1" height="31" fill="#000"/>
<rect x="464" y="288" width="11" height="13" fill="#000"/>
<rect x="465" y="289" width="9" height="11" fill="#ff0000"/>
<rect x="485" y="279" width="1" height="24" fill="#000"/>
<rect x="480" y="287" width="11" height="12" fill="#000"/>
<rect x="481" y="288" width="9" height="10" fill="#00ff00"/>
<rect x="501" y="287" width="1" height="19" fill="#000"/>
<rect x="496" y="291" width="11" height="8" fill="#000"/>
<rect x="497" y="292" width="9" height="6" fill="#ff0000"/>
<rect x="517" y="290" width="1" height="4" fill="#000"/>
<rect x="512" y="291" width="11" height="2" fill="#000"/>
<rect x="533" y="280" width="1" height="24" fill="#000"/>
<rect x="528" y="291" width="11" height="11" fill="#000"/>
<rect x="529" y="292" width="9" height="9" fill="#00ff00"/>
<rect x="549" y="290" width="1" height="15" fill="#000"/>
<rect x="544" y="299" width="11" height="3" fill="#000"/>
<rect x="545" y="300" width="9" height="1" fill="#ff0000"/>
<rect x="565" y="278" width="1" height="23" fill="#000"/>
<rect x="560" y="282" width="11" height="18" fill="#000"/>
<rect x="561" y="283" width="9" height="16" fill="#ff0000"/>
<rect x="581" y="250" width="1" height="36" fill="#000"/>
<rect x="576" y="257" width="11" height="25" fill="#000"/>
<rect x="577" y="258" width="9" height="23" fill="#ff0000"/>
<rect x="597" y="244" width="1" height="92" fill="#000"/>
<rect x="592" y="257" width="11" height="51" fill="#000"/>
<rect x="593" y="258" width="9" height="49" fill="#00ff00"/>
<rect x="613" y="299" width="1" height="63" fill="#000"/>
<rect x="608" y="307" width="11" height="15" fill="#000"/>
<rect x="609" y="308" width="9" height="13" fill="#00ff00"/>
<rect x="629" y="312" width="1" height="21" fill="#000"/>
<rect x="624" y="316" width="11" height="7" fill="#000"/>
<rect x="625" y="317" width="9" height="5" fill="#ff0000"/>
<rect x="645" y="314" width="1" height="38" fill="#000"/>
<rect x="640" y="316" width="11" height="31" fill="#000"/>
<rect x="641" y="317" width="9" height="29" fill="#00ff00"/>
<rect x="661" y="342" width="1" height="35" fill="#000"/>
<rect x="656" y="347" width="11" height="2" fill="#000"/>
<rect x="677" y="333" width="1" height="40" fill="#000"/>
<rect x="672" y="348" width="11" height="21" fill="#000"/>
<rect x="673" y="349" width="9" height="19" fill="#00ff00"/>
<rect x="693" y="350" width="1" height="83" fill="#000"/>
<rect x="688" y="367" width="11" height="51" fill="#000"/>
<rect x="689" y="368" width="9" height="49" fill="#00ff00"/>
<rect x="709" y="351" width="1" height="76" fill="#000"/>
<rect x="704" y="387" width="11" height="31" fill="#000"/>
<rect x="705" y="388" width="9" height="29" fill="#ff0000"/>
<rect x="725" y="369" width="1" height="27" fill="#000"/>
<rect x="720" y="371" width="11" height="17" fill="#000"/>
<rect x="721" y="372" width="9" height="15" fill="#ff0000"/>
<rect x="741" y="354" width="1" height="56" fill="#000"/>
<rect x="736" y="372" width="11" height="9" fill="#000"/>
<rect x="737" y="373" width="9" height="7" fill="#00ff00"/>
<rect x="757" y="360" width="1" height="24" fill="#000"/>
<rect x="752" y="372" width="11" height="8" fill="#000"/>
<rect x="753" y="373" width="9" height="6" fill="#ff0000"/>
<rect x="773" y="352" width="1" height="33" fill="#000"/>
<rect x="768" y="369" width="11" height="4" fill="#000"/>
<rect x="769" y="370" width="9" height="2" fill="#ff0000"/>
<rect x="789" y="303" width="1" height="119" fill="#000"/>
<rect x="784" y="304" width="11" height="66" fill="#000"/>
<rect x="785" y="305" width="9" height="64" fill="#ff0000"/>
<rect x="805" y="253" width="1" height="57" fill="#000"/>
<rect x="800" y="283" width="11" height="21" fill="#000"/>
<rect x="801" y="284" width="9" height="19" fill="#ff0000"/>
<rect x="821" y="272" width="1" height="16" fill="#000"/>
<rect x="816" y="279" width="11" height="4" fill="#000"/>
<rect x="817" y="280" width="9" height="2" fill="#ff0000"/>
<rect x="837" y="259" width="1" height="23" fill="#000"/>
<rect x="832" y="264" width="11" height="16" fill="#000"/>
<rect x="833" y="265" width="9" height="14" fill="#ff0000"/>
<rect x="853" y="244" width="1" height="24" fill="#000"/>
<rect x="848" y="244" width="11" height="21" fill="#000"/>
<rect x="849" y="245" width="9" height="19" fill="#ff0000"/>
<rect x="869" y="218" width="1" height="31" fill="#000"/>
<rect x="864" y="231" width="11" height="16" fill="#000"/>
<rect x="865" y="232" width="9" height="14" fill="#ff0000"/>
<rect x="885" y="123" width="1" height="135" fill="#000"/>
<rect x="880" y="130" width="11" height="101" fill="#000"/>
<rect x="881" y="131" width="9" height="99" fill="#ff0000"/>
<rect x="901" y="93" width="1" height="52" fill="#000"/>
<rect x="896" y="118" width="11" height="13" fill="#000"/>
<rect x="897" y="119" width="9" height="11" fill="#ff0000"/>
<rect x="917" y="109" width="1" height="23" fill="#000"/>
<rect x="912" y="110" width="11" height="20" fill="#000"/>
<rect x="913" y="111" width="9" height="18" fill="#00ff00"/>
<rect x="933" y="121" width="1" height="20" fill="#000"/>
<rect x="928" y="129" width="11" height="3" fill="#000"/>
<rect x="929" y="130" width="9" height="1" fill="#00ff00"/>
<rect x="949" y="109" width="1" height="30" fill="#000"/>
<rect x="944" y="116" width="11" height="17" fill="#000"/>
<rect x="945" y="117" width="9" height="15" fill="#ff0000"/>
<rect x="965" y="109" width="1" height="17" fill="#000"/>
<rect x="960" y="116" width="11" height="1" fill="#000"/>
<rect x="981" y="76" width="1" height="50" fill="#000"/>
<rect x="976" y="90" width="11" height="27" fill="#000"/>
<rect x="977" y="91" width="9" height="25" fill="#ff0000"/>
<rect x="997" y="72" width="1" height="90" fill="#000"/>
<rect x="992" y="90" width="11" height="52" fill="#000"/>
<rect x="993" y="91" width="9" height="50" fill="#00ff00"/>
<rect x="1013" y="133" width="1" height="26" fill="#000"/>
<rect x="1008" y="142" width="11" height="12" fill="#000"/>
<rect x="1009" y="143" width="9" height="10" fill="#00ff00"/>
<rect x="1029" y="134" width="1" height="24" fill="#000"/>
<rect x="1024" y="138" width="11" height="16" fill="#000"/>
<rect x="1025" y="139" width="9" height="14" fill="#ff0000"/>
<rect x="1045" y="129" width="1" height="25" fill="#000"/>
<rect x="1040" y="136" width="11" height="4" fill="#000"/>
<rect x="1041" y="137" width="9" height="2" fill="#ff0000"/>
<rect x="1061" y="129" width="1" height="31" fill="#000"/>
<rect x="1056" y="137" width="11" height="10" fill="#000"/>
<rect x="1057" y="138" width="9" height="8" fill="#00ff00"/>
<rect x="1077" y="105" width="1" height="69" fill="#000"/>
<rect x="1072" y="114" width="11" height="34" fill="#000"/>
<rect x="1073" y="115" width="9" height="32" fill="#ff0000"/>
<rect x="1093" y="102" width="1" height="56" fill="#000"/>
<rect x="1088" y="113" width="11" height="4" fill="#000"/>
<rect x="1089" y="114" width="9" height="2" fill="#00ff00"/>
<rect x="1109" y="103" width="1" height="17" fill="#000"/>
<rect x="1104" y="105" width="11" height="12" fill="#000"/>
<rect x="1105" y="106" width="9" height="10" fill="#ff0000"/>
<rect x="1125" y="100" width="1" height="21" fill="#000"/>
<rect x="1120" y="103" width="11" height="3" fill="#000"/>
<rect x="1121" y="104" width="9" height="1" fill="#ff0000"/>
<rect x="1141" y="102" width="1" height="35" fill="#000"/>
<rect x="1136" y="104" width="11" height="28" fill="#000"/>
<rect x="1137" y="105" width="9" height="26" fill="#00ff00"/>
<rect x="1157" y="97" width="1" height="42" fill="#000"/>
<rect x="1152" y="97" width="11" height="36" fill="#000"/>
<rect x="1153" y="98" width="9" height="34" fill="#ff0000"/>
<rect x="1173" y="75" width="1" height="78" fill="#000"/>
<rect x="1168" y="98" width="11" height="53" fill="#000"/>
<rect x="1169" y="99" width="9" height="51" fill="#00ff00"/>
<rect x="1189" y="132" width="1" height="40" fill="#000"/>
<rect x="1184" y="149" width="11" height="9" fill="#000"/>
<rect x="1185" y="150" width="9" height="7" fill="#00ff00"/>
<rect x="1205" y="152" width="1" height="13" fill="#000"/>
<rect x="1200" y="157" width="11" height="1" fill="#000"/>
<rect x="1221" y="153" width="1" height="19" fill="#000"/>
<rect x="1216" y="158" width="11" height="12" fill="#000"/>
<rect x="1217" y="159" width="9" height="10" fill="#00ff00"/>
<rect x="1237" y="160" width="1" height="30" fill="#000"/>
<rect x="1232" y="165" width="11" height="4" fill="#000"/>
<rect x="1233" y="166" width="9" height="2" fill="#ff0000"/>
<rect x="1253" y="146" width="1" height="24" fill="#000"/>
<rect x="1248" y="159" width="11" height="8" fill="#000"/>
<rect x="1249" y="160" width="9" height="6" fill="#ff0000"/>
<rect x="1269" y="115" width="1" height="70" fill="#000"/>
<rect x="1264" y="124" width="11" height="37" fill="#000"/>
<rect x="1265" y="125" width="9" height="35" fill="#ff0000"/>
<rect x="1285" y="81" width="1" height="52" fill="#000"/>
<rect x="1280" y="94" width="11" height="32" fill="#000"/>
<rect x="1281" y="95" width="9" height="30" fill="#ff0000"/>
<rect x="1301" y="88" width="1" height="14" fill="#000"/>
<rect x="1296" y="94" width="11" height="1" fill="#000"/>
<rect x="1312" y="93" width="11" height="1" fill="#00ff00"/>
</g>
<text transform="translate(20,39) rotate(.05) scale(0.9231,1)" fill="#000" stroke="#000" stroke-width="0.15" font-size="10" xml:space="preserve">SP500-,H4  4297.750 4297.750 4297.750 4297.750</text>
<rect x="1604" y="88" width="46" height="11" fill="#000"/>
<text transform="translate(1608,97) rotate(.05) scale(0.9110,1)" fill="#fff" stroke="#fff" stroke-width="0.15" font-size="10" xml:space="preserve">4297.750</text>
<rect x="5" y="34" width="1597" height="2" fill="#ff0000"/>
<rect x="4" y="32" width="6" height="6" fill="#ff0000"/>
<rect x="6" y="34" width="2" height="2" fill="#fff"/>
<rect x="1596" y="32" width="6" height="6" fill="#ff0000"/>
<rect x="1598" y="34" width="2" height="2" fill="#fff"/>
<rect x="1604" y="29" width="46" height="11" fill="#ff0000"/>
<text transform="translate(1608,38) rotate(.05) scale(0.9110,1)" fill="#fff" stroke="#fff" stroke-width="0.15" font-size="10" xml:space="preserve">4318.587</text>
<rect x="5" y="64" width="1597" height="2" fill="#ff0000"/>
<rect x="4" y="62" width="6" height="6" fill="#ff0000"/>
<rect x="6" y="64" width="2" height="2" fill="#fff"/>
<rect x="1596" y="62" width="6" height="6" fill="#ff0000"/>
<rect x="1598" y="64" width="2" height="2" fill="#fff"/>
<rect x="1604" y="59" width="46" height="11" fill="#ff0000"/>
<text transform="translate(1608,68) rotate(.05) scale(0.9110,1)" fill="#fff" stroke="#fff" stroke-width="0.15" font-size="10" xml:space="preserve">4307.956</text>
<rect x="5" y="107" width="1597" height="2" fill="#ff8c00"/>
<rect x="4" y="105" width="6" height="6" fill="#ff8c00"/>
<rect x="6" y="107" width="2" height="2" fill="#fff"/>
<rect x="1596" y="105" width="6" height="6" fill="#ff8c00"/>
<rect x="1598" y="107" width="2" height="2" fill="#fff"/>
<rect x="1604" y="102" width="46" height="11" fill="#ff8c00"/>
<text transform="translate(1608,111) rotate(.05) scale(0.9110,1)" fill="#fff" stroke="#fff" stroke-width="0.15" font-size="10" xml:space="preserve">4292.146</text>
<rect x="5" y="136" width="1597" height="2" fill="#0000ff"/>
<rect x="4" y="134" width="6" height="6" fill="#0000ff"/>
<rect x="6" y="136" width="2" height="2" fill="#fff"/>
<rect x="1596" y="134" width="6" height="6" fill="#0000ff"/>
<rect x="1598" y="136" width="2" height="2" fill="#fff"/>
<rect x="1604" y="131" width="46" height="11" fill="#0000ff"/>
<text transform="translate(1608,140) rotate(.05) scale(0.9110,1)" fill="#fff" stroke="#fff" stroke-width="0.15" font-size="10" xml:space="preserve">4281.492</text>
<rect x="5" y="164" width="1597" height="2" fill="#0000ff"/>
<rect x="4" y="162" width="6" height="6" fill="#0000ff"/>
<rect x="6" y="164" width="2" height="2" fill="#fff"/>
<rect x="1596" y="162" width="6" height="6" fill="#0000ff"/>
<rect x="1598" y="164" width="2" height="2" fill="#fff"/>
<rect x="1604" y="159" width="46" height="11" fill="#0000ff"/>
<text transform="translate(1608,168) rotate(.05) scale(0.9110,1)" fill="#fff" stroke="#fff" stroke-width="0.15" font-size="10" xml:space="preserve">4271.181</text>
<path d="M8 34h7l-3.5 4z" fill="#000" shape-rendering="crispEdges"/>
<rect x="1341" y="28" width="9" height="1" fill="#000"/>
<rect x="1342" y="29" width="7" height="1" fill="#000"/>
<rect x="1343" y="30" width="5" height="1" fill="#000"/>
<rect x="1344" y="31" width="3" height="1" fill="#000"/>
<rect x="1345" y="32" width="1" height="1" fill="#000"/>
<g shape-rendering="auto"><line x1="1276.8" y1="210.5" x2="1358" y2="159" stroke="#e8161e" stroke-width="3"/><path d="M1352.5 151.5L1372.3 149.8L1362.6 166.5Z" fill="#e8161e"/></g>
<text transform="translate(9,642) rotate(.05) scale(0.9354,1)" fill="#000" stroke="#000" stroke-width="0.15" font-size="10" xml:space="preserve">MACD(12,26,9) 9.3808 9.1971</text>
<g clip-path="url(#c2)">
<rect x="4" y="657" width="3" height="35" fill="#00ff00"/>
<rect x="20" y="657" width="3" height="35" fill="#00ff00"/>
<rect x="36" y="659" width="3" height="33" fill="#00ff00"/>
<rect x="52" y="659" width="3" height="33" fill="#00ff00"/>
<rect x="68" y="660" width="3" height="32" fill="#00ff00"/>
<rect x="84" y="663" width="3" height="29" fill="#00ff00"/>
<rect x="100" y="668" width="3" height="24" fill="#00ff00"/>
<rect x="116" y="671" width="3" height="21" fill="#00ff00"/>
<rect x="132" y="681" width="3" height="11" fill="#00ff00"/>
<rect x="148" y="687" width="3" height="5" fill="#00ff00"/>
<rect x="164" y="692" width="3" height="2" fill="#00ff00"/>
<rect x="180" y="692" width="3" height="9" fill="#00ff00"/>
<rect x="196" y="692" width="3" height="16" fill="#00ff00"/>
<rect x="212" y="692" width="3" height="25" fill="#00ff00"/>
<rect x="228" y="692" width="3" height="30" fill="#00ff00"/>
<rect x="244" y="692" width="3" height="31" fill="#00ff00"/>
<rect x="260" y="692" width="3" height="31" fill="#00ff00"/>
<rect x="276" y="692" width="3" height="32" fill="#00ff00"/>
<rect x="292" y="692" width="3" height="30" fill="#00ff00"/>
<rect x="308" y="692" width="3" height="29" fill="#00ff00"/>
<rect x="324" y="692" width="3" height="25" fill="#00ff00"/>
<rect x="340" y="692" width="3" height="23" fill="#00ff00"/>
<rect x="356" y="692" width="3" height="22" fill="#00ff00"/>
<rect x="372" y="692" width="3" height="21" fill="#00ff00"/>
<rect x="388" y="692" width="3" height="16" fill="#00ff00"/>
<rect x="404" y="692" width="3" height="6" fill="#00ff00"/>
<rect x="420" y="687" width="3" height="5" fill="#00ff00"/>
<rect x="436" y="676" width="3" height="16" fill="#00ff00"/>
<rect x="452" y="670" width="3" height="22" fill="#00ff00"/>
<rect x="468" y="664" width="3" height="28" fill="#00ff00"/>
<rect x="484" y="660" width="3" height="32" fill="#00ff00"/>
<rect x="500" y="657" width="3" height="35" fill="#00ff00"/>
<rect x="516" y="655" width="3" height="37" fill="#00ff00"/>
<rect x="532" y="655" width="3" height="37" fill="#00ff00"/>
<rect x="548" y="655" width="3" height="37" fill="#00ff00"/>
<rect x="564" y="654" width="3" height="38" fill="#00ff00"/>
<rect x="580" y="652" width="3" height="40" fill="#00ff00"/>
<rect x="596" y="655" width="3" height="37" fill="#00ff00"/>
<rect x="612" y="658" width="3" height="34" fill="#00ff00"/>
<rect x="628" y="661" width="3" height="31" fill="#00ff00"/>
<rect x="644" y="665" width="3" height="27" fill="#00ff00"/>
<rect x="660" y="669" width="3" height="23" fill="#00ff00"/>
<rect x="676" y="674" width="3" height="18" fill="#00ff00"/>
<rect x="692" y="681" width="3" height="11" fill="#00ff00"/>
<rect x="708" y="684" width="3" height="8" fill="#00ff00"/>
<rect x="724" y="686" width="3" height="6" fill="#00ff00"/>
<rect x="740" y="689" width="3" height="3" fill="#00ff00"/>
<rect x="756" y="690" width="3" height="2" fill="#00ff00"/>
<rect x="772" y="691" width="3" height="1" fill="#00ff00"/>
<rect x="788" y="687" width="3" height="5" fill="#00ff00"/>
<rect x="804" y="682" width="3" height="10" fill="#00ff00"/>
<rect x="820" y="679" width="3" height="13" fill="#00ff00"/>
<rect x="836" y="675" width="3" height="17" fill="#00ff00"/>
<rect x="852" y="671" width="3" height="21" fill="#00ff00"/>
<rect x="868" y="667" width="3" height="25" fill="#00ff00"/>
<rect x="884" y="658" width="3" height="34" fill="#00ff00"/>
<rect x="900" y="650" width="3" height="42" fill="#00ff00"/>
<rect x="916" y="645" width="3" height="47" fill="#00ff00"/>
<rect x="932" y="642" width="3" height="50" fill="#00ff00"/>
<rect x="948" y="639" width="3" height="53" fill="#00ff00"/>
<rect x="964" y="637" width="3" height="55" fill="#00ff00"/>
<rect x="980" y="635" width="3" height="57" fill="#00ff00"/>
<rect x="996" y="637" width="3" height="55" fill="#00ff00"/>
<rect x="1012" y="640" width="3" height="52" fill="#00ff00"/>
<rect x="1028" y="642" width="3" height="50" fill="#00ff00"/>
<rect x="1044" y="644" width="3" height="48" fill="#00ff00"/>
<rect x="1060" y="647" width="3" height="45" fill="#00ff00"/>
<rect x="1076" y="648" width="3" height="44" fill="#00ff00"/>
<rect x="1092" y="649" width="3" height="43" fill="#00ff00"/>
<rect x="1108" y="649" width="3" height="43" fill="#00ff00"/>
<rect x="1124" y="650" width="3" height="42" fill="#00ff00"/>
<rect x="1140" y="653" width="3" height="39" fill="#00ff00"/>
<rect x="1156" y="654" width="3" height="38" fill="#00ff00"/>
<rect x="1172" y="658" width="3" height="34" fill="#00ff00"/>
<rect x="1188" y="662" width="3" height="30" fill="#00ff00"/>
<rect x="1204" y="666" width="3" height="26" fill="#00ff00"/>
<rect x="1220" y="670" width="3" height="22" fill="#00ff00"/>
<rect x="1236" y="673" width="3" height="19" fill="#00ff00"/>
<rect x="1252" y="675" width="3" height="17" fill="#00ff00"/>
<rect x="1268" y="675" width="3" height="17" fill="#00ff00"/>
<rect x="1284" y="673" width="3" height="19" fill="#00ff00"/>
<rect x="1300" y="671" width="3" height="21" fill="#00ff00"/>
<rect x="1316" y="670" width="3" height="22" fill="#00ff00"/>
<polyline points="5,652.0 21,652.2 37,653.3 53,654.4 69,655.7 85,657.2 101,659.0 117,661.3 133,664.2 149,666.9 165,670.8 181,675.9 197,680.6 213,687.0 229,693.8 245,700.0 261,705.1 277,710.0 293,714.3 309,717.4 325,719.5 341,720.1 357,719.5 373,718.4 389,717.0 405,714.3 421,710.8 437,706.1 453,700.0 469,693.8 485,687.2 501,681.5 517,675.3 533,669.1 549,664.0 565,661.3 581,658.3 597,656.4 613,656.0 629,656.4 645,657.4 661,658.5 677,659.9 693,663.0 709,667.1 725,670.4 741,674.5 757,678.6 773,681.5 789,683.5 805,685.0 821,685.2 837,685.0 853,683.5 869,681.5 885,678.4 901,673.9 917,668.5 933,663.6 949,659.3 965,654.3 981,649.2 997,646.0 1013,643.5 1029,641.4 1045,640.4 1061,640.4 1077,641.4 1093,642.0 1109,643.0 1125,645.1 1141,647.2 1157,648.2 1173,650.4 1189,652.3 1205,654.8 1221,657.4 1237,659.5 1253,662.2 1269,665.0 1285,667.1 1301,669.1 1317,670.6 1318,670.6" fill="none" stroke="#ff0000" stroke-width="2" stroke-linejoin="round"/>
</g>
<text transform="translate(9,743) rotate(.05) scale(0.9239,1)" fill="#000" stroke="#000" stroke-width="0.15" font-size="10" xml:space="preserve">RSI(14) 63.9417</text>
<line x1="6" y1="746.5" x2="1602" y2="746.5" stroke="#000" stroke-width="1" stroke-dasharray="3 3"/>
<line x1="6" y1="768.5" x2="1602" y2="768.5" stroke="#000" stroke-width="1" stroke-dasharray="3 3"/>
<line x1="6" y1="794.5" x2="1602" y2="794.5" stroke="#000" stroke-width="1" stroke-dasharray="3 3"/>
<g clip-path="url(#c3)">
<polyline points="5,757.8 21,757.8 37,759.9 53,756.8 69,759.3 85,764.0 101,768.7 117,768.7 133,778.8 149,776.3 165,776.7 181,781.5 197,781.9 213,786.0 229,783.5 245,776.7 261,776.7 277,776.7 293,773.2 309,774.9 325,770.6 341,771.8 357,771.8 373,771.8 389,766.5 405,757.8 421,756.4 437,754.8 453,756.8 469,756.8 485,756.8 501,756.8 517,757.4 533,757.8 549,757.8 565,756.2 581,754.8 597,763.0 613,764.0 629,764.0 645,768.1 661,768.5 677,769.8 693,775.9 709,772.2 725,770.8 741,770.8 757,770.6 773,769.5 789,762.4 805,759.9 821,758.9 837,758.0 853,756.2 869,755.6 885,747.8 901,748.2 917,749.8 933,749.8 949,749.2 965,748.6 981,748.6 997,757.2 1013,758.9 1029,757.2 1045,757.2 1061,758.9 1077,756.2 1093,756.2 1109,755.8 1125,754.8 1141,760.9 1157,757.8 1173,765.6 1189,765.6 1205,766.1 1221,767.7 1237,767.7 1253,767.7 1269,763.0 1285,758.3 1301,757.8 1317,757.8 1318,757.8" fill="none" stroke="#1e90ff" stroke-width="2" stroke-linejoin="round"/>
</g>
</svg>
</body></html>
